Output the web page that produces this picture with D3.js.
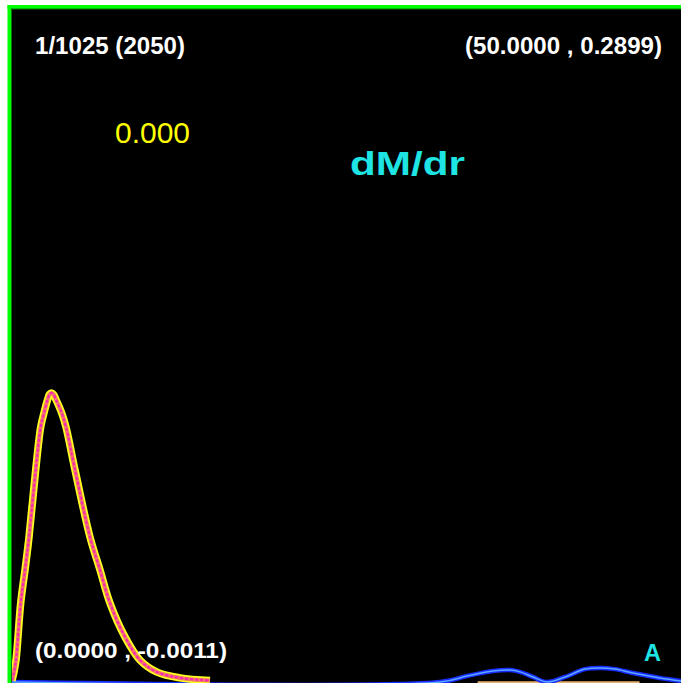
<!DOCTYPE html>
<html>
<head>
<meta charset="utf-8">
<script src="https://cdnjs.cloudflare.com/ajax/libs/d3/7.8.5/d3.min.js"></script>
<style>
  html, body { margin: 0; padding: 0; background: #ffffff; }
  svg { display: block; }
</style>
</head>
<body>
<svg id="chart" width="681" height="683"></svg>
<script>
// Plot window limits (lower-left and upper-right corners)
const xDomain = [0.0, 50.0];
const yDomain = [-0.0011, 0.2899];

// Radial derivative of the mass, main profile
const peakR = [0.000, 0.149, 0.299, 0.650, 0.972, 1.271, 1.771, 2.145, 2.392, 2.653, 2.800, 2.952,
               3.100, 3.300, 3.714, 4.036, 4.709, 5.830, 6.577, 7.324, 8.445, 9.566, 10.837, 12.556, 14.798];
const peakV = [0.0000, 0.0036, 0.0088, 0.0334, 0.0477, 0.0619, 0.0909, 0.1094, 0.1155, 0.1211, 0.1235, 0.1241,
               0.1235, 0.1211, 0.1155, 0.1094, 0.0909, 0.0619, 0.0477, 0.0334, 0.0188, 0.0088, 0.0036, 0.0011, 0.0000];

// Secondary profile with the two small outer bumps
const bumpR = [0.00, 31.99, 34.01, 35.95, 37.22, 37.97, 38.94, 39.98, 41.33, 42.82, 43.95, 45.07, 46.41, 48.43, 50.00];
const bumpV = [-0.0007, -0.0007, 0.0019, 0.0041, 0.0045, 0.0037, 0.0015, -0.0007, 0.0015, 0.0049, 0.0054, 0.0049, 0.0032, 0.0011, -0.0002];

// Flat reference profile near zero
const flatR = [34.8, 46.9];
const flatV = [-0.0008, -0.0008];

// Header / corner labels
const frameLabel = "1/1025 (2050)";
const upperRightLabel = "(50.0000 , 0.2899)";
const lowerLeftLabel = "(0.0000 , -0.0011)";
const timeLabel = "0.000";
const quantityLabel = "dM/dr";
const panelLabel = "A";

const svg = d3.select("#chart");
const W = 681, H = 683;
const padL = 12, padT = 9, edgeR = 681, edgeB = 683;

const x = d3.scaleLinear().domain(xDomain).range([padL, edgeR]);
const y = d3.scaleLinear().domain(yDomain).range([edgeB, padT]);

// Black plotting field
svg.append("rect").attr("x", padL).attr("y", padT)
  .attr("width", edgeR - padL).attr("height", edgeB - padT).attr("fill", "#000");

// Green frame on the left and top edges
const frame = svg.append("g");
frame.append("rect").attr("x", 7.5).attr("y", 5).attr("width", 4).attr("height", H - 5).attr("fill", "#00ff00");
frame.append("rect").attr("x", 7.5).attr("y", 5).attr("width", W - 7.5).attr("height", 4).attr("fill", "#00ff00");
frame.append("rect").attr("x", 11).attr("y", 8.5).attr("width", 1).attr("height", H - 8.5).attr("fill", "#0a7a0a");
frame.append("rect").attr("x", 11).attr("y", 8.5).attr("width", W - 11).attr("height", 1).attr("fill", "#0a7a0a");

const plot = svg.append("g");
plot.append("clipPath").attr("id", "clip").append("rect")
  .attr("x", padL).attr("y", padT).attr("width", edgeR - padL).attr("height", edgeB - padT);
const g = plot.append("g").attr("clip-path", "url(#clip)");

const line = d3.line().x(d => x(d[0])).y(d => y(d[1])).curve(d3.curveCatmullRom.alpha(0.5));

const peak = d3.zip(peakR, peakV);
const bump = d3.zip(bumpR, bumpV);
const flat = d3.zip(flatR, flatV);

// flat profile
g.append("path").datum(flat).attr("d", line)
  .attr("fill", "none").attr("stroke", "#e8b070").attr("stroke-width", 2);

// outer-bump profile: dark blue halo with a lighter core
g.append("path").datum(bump).attr("d", line)
  .attr("fill", "none").attr("stroke", "#1a2cff").attr("stroke-width", 4.5).attr("stroke-linejoin", "round");
g.append("path").datum(bump).attr("d", line)
  .attr("fill", "none").attr("stroke", "#5aa8ff").attr("stroke-width", 1.5).attr("stroke-linejoin", "round");

// main profile: yellow outline, salmon body, dashed magenta core
g.append("path").datum(peak).attr("d", line)
  .attr("fill", "none").attr("stroke", "#ffff20").attr("stroke-width", 7.5).attr("stroke-linejoin", "round");
g.append("path").datum(peak).attr("d", line)
  .attr("fill", "none").attr("stroke", "#ef7a6a").attr("stroke-width", 4).attr("stroke-linejoin", "round");
g.append("path").datum(peak).attr("d", line)
  .attr("fill", "none").attr("stroke", "#ff1fb8").attr("stroke-width", 2).attr("stroke-dasharray", "3,2");

// Text
const fontStack = "'Liberation Sans', Arial, Helvetica, sans-serif";
function label(txt, xp, yp, size, color, weight, width) {
  const t = svg.append("text").attr("x", xp).attr("y", yp)
    .attr("font-family", fontStack).attr("font-size", size)
    .attr("font-weight", weight).attr("fill", color).text(txt);
  if (width) t.attr("textLength", width).attr("lengthAdjust", "spacingAndGlyphs");
  return t;
}
label(frameLabel, 35, 54, 23, "#ffffff", "bold", 150);
label(upperRightLabel, 465, 54, 23, "#ffffff", "bold", 197);
label(lowerLeftLabel, 35, 658, 22, "#ffffff", "bold", 192);
label(timeLabel, 115, 143, 30, "#ffff00", "normal", 75);
label(quantityLabel, 350, 175, 34, "#1ee4e4", "bold", 115);
label(panelLabel, 644, 661, 24, "#1ee4e4", "bold", 17);
</script>
</body>
</html>
